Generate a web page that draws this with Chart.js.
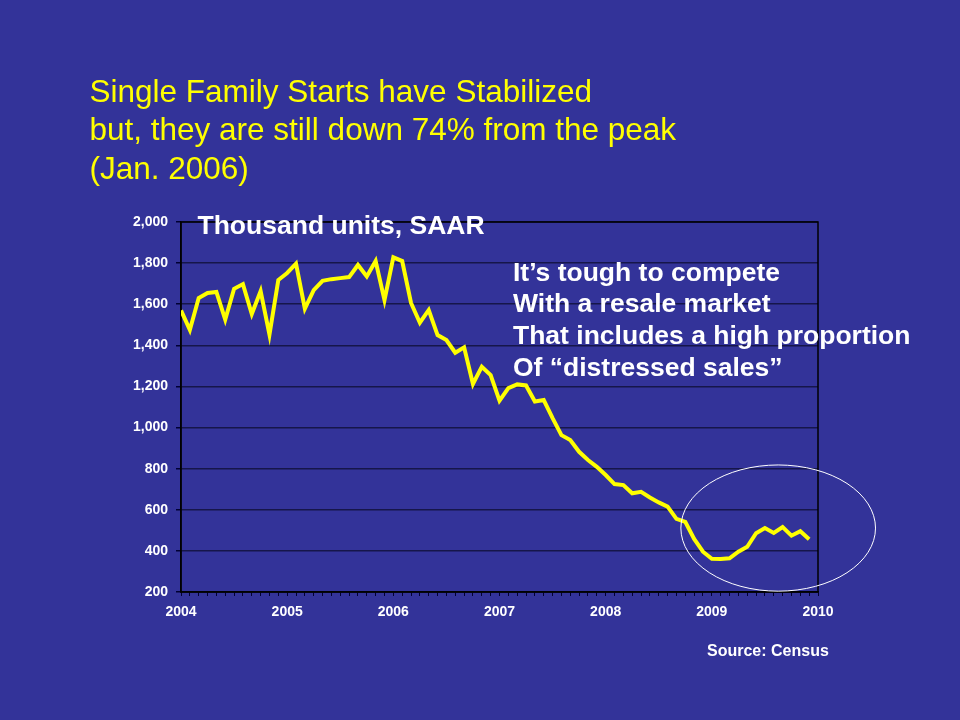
<!DOCTYPE html>
<html>
<head>
<meta charset="utf-8">
<script src="https://cdn.jsdelivr.net/npm/chart.js@4"></script>
<style>
  html, body { margin: 0; padding: 0; background: #333399; }
  #wrap { position: relative; width: 960px; height: 720px; overflow: hidden; background: #333399; }
  #myChart { position: absolute; left: 0; top: 0; }
  .txt { position: absolute; white-space: nowrap; font-family: "Liberation Sans", Arial, sans-serif; }
  #title { left: 89.5px; top: 71.5px; font-size: 31.5px; line-height: 38.5px; color: #FFFF00; }
  #units { left: 197.5px; top: 211.5px; font-size: 26.5px; line-height: 1; font-weight: bold; color: #fff; }
  #note { left: 513px; top: 256.5px; font-size: 26.5px; line-height: 31.7px; font-weight: bold; color: #fff; }
  #source { left: 707px; top: 643px; font-size: 16px; line-height: 1; font-weight: bold; color: #fff; }
</style>
</head>
<body>
<div id="wrap">
  <canvas id="myChart" width="960" height="720"></canvas>
  <div class="txt" id="title">Single Family Starts have Stabilized<br>but, they are still down 74% from the peak<br>(Jan. 2006)</div>
  <div class="txt" id="units">Thousand units, SAAR</div>
  <div class="txt" id="note">It’s tough to compete<br>With a resale market<br>That includes a high proportion<br>Of “distressed sales”</div>
  <div class="txt" id="source">Source: Census</div>
</div>
<script>
// single family starts, thousand units SAAR, Jan..Dec of each year
var yearLabels = ["2004", "2005", "2006", "2007", "2008", "2009", "2010"];
var starts2004 = [1570, 1475, 1630, 1655, 1660, 1525, 1675, 1698, 1552, 1664, 1452, 1718];
var starts2005 = [1752, 1797, 1578, 1668, 1714, 1722, 1727, 1732, 1791, 1735, 1810, 1620];
var starts2006 = [1828, 1810, 1606, 1510, 1572, 1450, 1426, 1364, 1390, 1212, 1296, 1255];
var starts2007 = [1131, 1192, 1210, 1205, 1127, 1134, 1046, 963, 939, 882, 842, 809];
var starts2008 = [769, 725, 720, 680, 687, 660, 636, 615, 556, 541, 458, 396];
var starts2009 = [362, 360, 364, 396, 420, 486, 511, 487, 516, 474, 496, 457];

var allStarts = [].concat(starts2004, starts2005, starts2006, starts2007, starts2008, starts2009);
var points = allStarts.map(function (v, i) { return { x: i, y: v }; });

// circled "stabilized" region, in data units (months since Jan 2004, thousands)
var circle = { x: 67.5, y: 511, rx: 11, ry: 307 };

var frame = {
  id: 'frame',
  beforeDatasetsDraw: function (chart) {
    var a = chart.chartArea, c = chart.ctx;
    c.save();
    c.strokeStyle = '#000';
    c.lineWidth = 1.5;
    c.strokeRect(a.left, a.top, a.right - a.left, a.bottom - a.top);
    c.restore();
  },
  afterDatasetsDraw: function (chart) {
    var xs = chart.scales.x, ys = chart.scales.y, c = chart.ctx;
    var cx = xs.getPixelForValue(circle.x), cy = ys.getPixelForValue(circle.y);
    var rx = xs.getPixelForValue(circle.x + circle.rx) - cx;
    var ry = cy - ys.getPixelForValue(circle.y + circle.ry);
    c.save();
    c.strokeStyle = '#ffffff';
    c.lineWidth = 1;
    c.beginPath();
    c.ellipse(cx, cy, rx, ry, 0, 0, Math.PI * 2);
    c.stroke();
    c.restore();
  }
};

var ctx = document.getElementById("myChart");
var myChart = new Chart(ctx, {
  type: 'line',
  data: {
    datasets: [{
      data: points,
      borderColor: '#FFFF00',
      borderWidth: 4,
      pointRadius: 0,
      tension: 0,
      fill: false
    }]
  },
  options: {
    responsive: false,
    animation: false,
    layout: { padding: { left: 111, right: 142, top: 222, bottom: 88 } },
    plugins: { legend: { display: false }, tooltip: { enabled: false } },
    scales: {
      x: {
        type: 'linear',
        min: 0,
        max: 72,
        afterFit: function (s) { s.height = 40; },
        border: { color: '#000', width: 1.5 },
        grid: { drawOnChartArea: false, drawTicks: true, tickLength: 4, tickColor: '#000033' },
        ticks: {
          stepSize: 1,
          autoSkip: false,
          maxRotation: 0,
          maxTicksLimit: 100,
          padding: 8,
          color: '#fff',
          font: { family: 'Liberation Sans', size: 14, weight: 'bold' },
          callback: function (v) { return v % 12 === 0 ? yearLabels[v / 12] : ''; }
        }
      },
      y: {
        min: 200,
        max: 2000,
        afterFit: function (s) { s.width = 70; },
        border: { color: '#000', width: 1.5 },
        grid: { color: '#16164a', lineWidth: 1.5, tickLength: 5, tickColor: '#000033' },
        ticks: {
          stepSize: 200,
          padding: 8,
          color: '#fff',
          font: { family: 'Liberation Sans', size: 14, weight: 'bold' },
          callback: function (v) { return v.toLocaleString('en-US'); }
        }
      }
    }
  },
  plugins: [frame]
});
</script>
</body>
</html>
